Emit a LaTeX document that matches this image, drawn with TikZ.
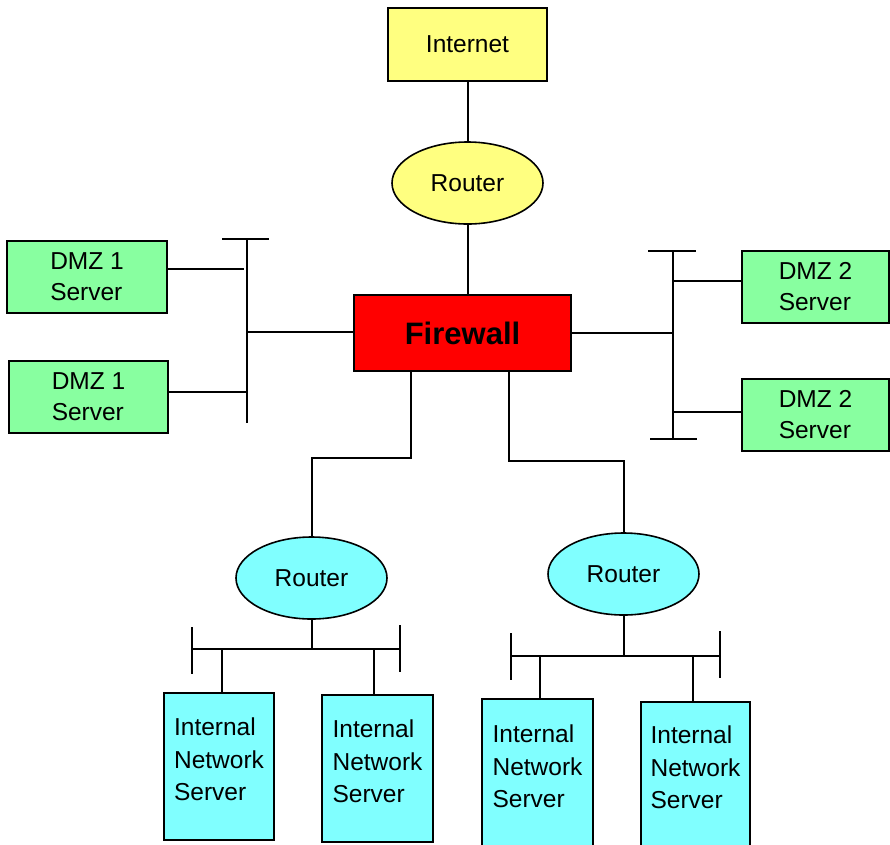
\documentclass[tikz,border=0pt]{standalone}
\usepackage{fontspec}
\setmainfont{Liberation Sans}
\usetikzlibrary{shapes.geometric}

\definecolor{netyellow}{HTML}{FFFF80}
\definecolor{fwred}{HTML}{FF0000}
\definecolor{dmzgreen}{HTML}{88FFA0}
\definecolor{lancyan}{HTML}{80FFFF}

\tikzset{
  wire/.style={draw=black, line width=2pt},
  box/.style={draw=black, line width=2pt, rectangle, inner sep=0pt,
    font=\fontsize{24.5}{31}\selectfont, align=left},
  rtr/.style={draw=black, line width=1.6pt, ellipse, inner sep=0pt,
    minimum width=151pt, minimum height=82pt, font=\fontsize{24.5}{30}\selectfont},
  dmzbox/.style={box, fill=dmzgreen, minimum height=72pt},
  srvbox/.style={box, fill=lancyan, minimum width=110pt, minimum height=147pt},
  srvtext/.style={inner sep=0pt, align=left, font=\fontsize{24.5}{32.5}\selectfont},
}

\begin{document}
\begin{tikzpicture}[x=1pt, y=-1pt]
\useasboundingbox (0,0) rectangle (890,844);
\fill[white] (0,0) rectangle (890,844);

% --- upstream: internet, edge router, firewall
\node[box, fill=netyellow, minimum width=159pt, minimum height=73pt] (inet) at (467.5,44.5) {Internet};
\node[rtr, fill=netyellow] (r0) at (467.5,183) {Router};
\node[box, fill=fwred, minimum width=217pt, minimum height=76pt,
      font=\fontsize{31}{36}\bfseries] (fw) at (462.5,333) {Firewall};

\draw[wire] (inet.south) -- (r0.north);
\draw[wire] (r0.south) -- (r0.south |- fw.north);

% --- DMZ 1 segment (left)
\node[dmzbox, minimum width=160pt] (d1a) at (87,277) {DMZ 1\\Server};
\node[dmzbox, minimum width=159pt] (d1b) at (88.5,397) {DMZ 1\\Server};

\coordinate (b1top) at (247,239);
\coordinate (b1bot) at (247,423);
\coordinate (b1capl) at (222,239);
\coordinate (b1capr) at (269,239);
\coordinate (b1fw) at (247,332);
\coordinate (b1a) at (244,269);
\coordinate (b1b) at (247,392);

\draw[wire] (b1top) -- (b1bot);
\draw[wire] (b1capl) -- (b1capr);
\draw[wire] (fw.west |- b1fw) -- (b1fw);
\draw[wire] (d1a.east |- b1a) -- (b1a);
\draw[wire] (d1b.east |- b1b) -- (b1b);

% --- DMZ 2 segment (right)
\node[dmzbox, minimum width=147pt] (d2a) at (815.5,287) {DMZ 2\\Server};
\node[dmzbox, minimum width=147pt] (d2b) at (815.5,415) {DMZ 2\\Server};

\coordinate (b2top) at (673,251);
\coordinate (b2bot) at (673,439);
\coordinate (b2tl) at (648,251);
\coordinate (b2tr) at (696,251);
\coordinate (b2bl) at (650,439);
\coordinate (b2br) at (697,439);
\coordinate (b2fw) at (673,333);
\coordinate (b2a) at (673,281);
\coordinate (b2b) at (673,412);

\draw[wire] (b2top) -- (b2bot);
\draw[wire] (b2tl) -- (b2tr);
\draw[wire] (b2bl) -- (b2br);
\draw[wire] (fw.east |- b2fw) -- (b2fw);
\draw[wire] (b2a) -- (d2a.west |- b2a);
\draw[wire] (b2b) -- (d2b.west |- b2b);

% --- internal routers
\node[rtr, fill=lancyan] (r1) at (311.5,578) {Router};
\node[rtr, fill=lancyan] (r2) at (623.5,574) {Router};

\coordinate (j1) at (411,458);
\coordinate (j2) at (509,461);
\draw[wire] (fw.south -| j1) -- (j1) -| (r1.north);
\draw[wire] (fw.south -| j2) -- (j2) -| (r2.north);

% --- internal LAN 1
\node[srvbox] (s1) at (219,766.5) {};
\node[srvbox, minimum width=111pt] (s2) at (377.5,768.5) {};
\node[srvtext] (s1t) at ([yshift=7pt]s1.center) {Internal\\Network\\Server};
\node[srvtext] (s2t) at ([yshift=7pt]s2.center) {Internal\\Network\\Server};

\coordinate (l1l) at (192,649);
\coordinate (l1r) at (400,649);
\coordinate (l1a) at (222,649);
\coordinate (l1b) at (374,649);
\draw[wire] (l1l) -- (l1r);
\draw[wire] (192,627) -- (192,674);
\draw[wire] (400,625) -- (400,672);
\draw[wire] (r1.south) -- (r1.south |- l1l);
\draw[wire] (l1a) -- (l1a |- s1.north);
\draw[wire] (l1b) -- (l1b |- s2.north);

% --- internal LAN 2
\node[srvbox, minimum width=111pt] (s3) at (537.5,772.5) {};
\node[srvbox, minimum width=109pt] (s4) at (695.5,775.5) {};
\node[srvtext] (s3t) at ([yshift=6pt]s3.center) {Internal\\Network\\Server};
\node[srvtext] (s4t) at ([yshift=8pt]s4.center) {Internal\\Network\\Server};

\coordinate (l2l) at (511,656);
\coordinate (l2r) at (720,656);
\coordinate (l2a) at (540,656);
\coordinate (l2b) at (693,656);
\draw[wire] (l2l) -- (l2r);
\draw[wire] (511,633) -- (511,680);
\draw[wire] (720,631) -- (720,678);
\draw[wire] (r2.south) -- (r2.south |- l2l);
\draw[wire] (l2a) -- (l2a |- s3.north);
\draw[wire] (l2b) -- (l2b |- s4.north);
\end{tikzpicture}
\end{document}
